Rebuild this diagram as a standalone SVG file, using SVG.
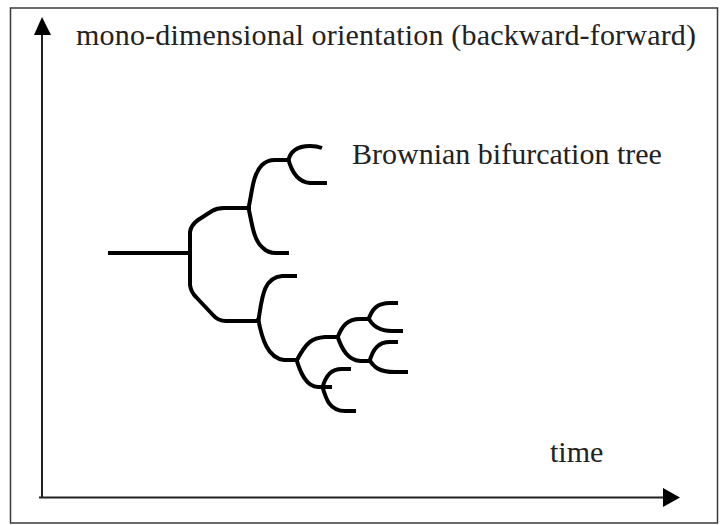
<svg xmlns="http://www.w3.org/2000/svg" width="724" height="525" viewBox="0 0 724 525">
<defs>
<style>
.frame{fill:none;stroke:#3a3a3a;stroke-width:1.5}
.axis{fill:none;stroke:#222;stroke-width:2}
.head{fill:#000}
.br{fill:none;stroke:#000;stroke-width:4;stroke-linecap:butt;stroke-linejoin:round}
.lbl{font-family:"Liberation Serif","Times New Roman",serif;font-size:30px;fill:#222}
</style>
</defs>
<rect width="724" height="525" fill="#fff"/>
<rect class="frame" x="10.5" y="8" width="707" height="515"/>
<g id="axes">
<line class="axis" x1="42" y1="34" x2="42" y2="498"/>
<polygon class="head" points="42,17 34,35 51,35"/>
<line class="axis" x1="39" y1="497.5" x2="664" y2="497.5"/>
<polygon class="head" points="680,497.5 663,488 663,507"/>
</g>
<g id="labels">
<text class="lbl" x="76" y="45" textLength="620" lengthAdjust="spacing">mono-dimensional orientation (backward-forward)</text>
<text class="lbl" x="352" y="164">Brownian bifurcation tree</text>
<text class="lbl" x="550" y="462">time</text>
</g>
<g id="tree">
<line class="br" x1="108" y1="253" x2="191" y2="253" stroke-width="5"/>
<path class="br" d="M190,255 V232 Q191,225 198,220 L212,211 Q217,208 224,208 H251"/>
<path class="br" d="M190,251 V285 Q191,292 196,297 L213,315 Q218,321 226,321 H259"/>
<path class="br" d="M248,210 C252,195 252,175 262,165 Q267,160 275,160 H289"/>
<path class="br" d="M248,206 C252,222 253,240 263,248 Q268,253 276,253 H289"/>
<path class="br" d="M288,162 C290,150 298,146 310,146 Q317,146 322,148"/>
<path class="br" d="M288,158 C291,170 297,182 310,183 H327"/>
<path class="br" d="M258,323 C262,300 262,278 282,276 H297"/>
<path class="br" d="M258,318 C262,340 268,358 284,360 H298"/>
<path class="br" d="M296,362 C306,342 312,338 325,337 H338"/>
<path class="br" d="M296,358 C300,372 306,387 318,387 H332"/>
<path class="br" d="M337,339 C342,325 348,319 360,319 H369"/>
<path class="br" d="M337,335 C342,350 348,360 360,361 H370"/>
<path class="br" d="M368,321 C372,308 378,303 390,303 H398"/>
<path class="br" d="M368,317 C372,326 380,331 392,331 H403"/>
<path class="br" d="M369,363 C373,348 379,342 390,342 H398"/>
<path class="br" d="M369,359 C374,368 380,372 395,372 H408"/>
<path class="br" d="M322,389 C326,374 332,369 342,369 H351"/>
<path class="br" d="M322,385 C326,400 330,411 345,411 H356"/>
</g>
</svg>
